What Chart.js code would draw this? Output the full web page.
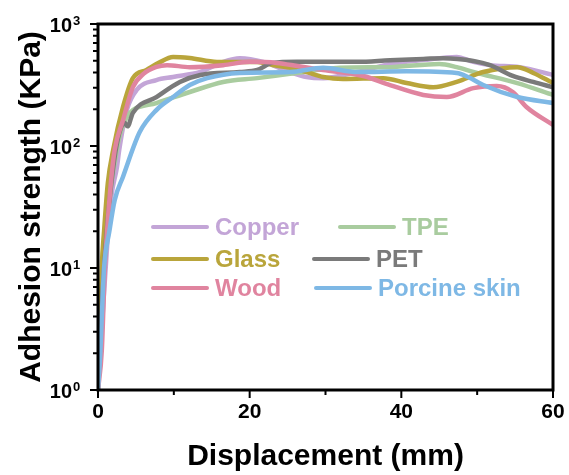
<!DOCTYPE html>
<html>
<head>
<meta charset="utf-8">
<script src="https://cdn.jsdelivr.net/npm/chart.js@4"></script>
<style>
  html, body { margin: 0; padding: 0; background: #fff; }
</style>
</head>
<body>
<canvas id="c" width="569" height="475"></canvas>
<script>
// Adhesion strength vs displacement, six substrates (log y)

// --- data (x in mm, y in KPa) ---
const copperX = [0, 0.6, 1.2, 1.8, 2.5, 2.8, 3.8, 5.1, 7.7, 9.9, 13.5, 16.5, 18.7, 21.8, 25.3, 27.5, 29.7, 34.2, 38.5, 42.9, 47.3, 49.5, 51.7, 55.6, 60];
const copperY = [1, 4, 15, 40, 67, 93, 197, 288, 347, 368, 404, 489, 525, 489, 404, 368, 360, 404, 470, 507, 537, 489, 460, 443, 382];

const tpeX = [0, 0.5, 1, 1.6, 2.3, 2.9, 3.8, 4.6, 7.7, 12.1, 16.5, 21, 25.3, 31.9, 38.5, 45, 47.3, 49.5, 55.3, 60];
const tpeY = [1, 5, 15, 40, 80, 125, 173, 197, 225, 277, 335, 360, 390, 437, 443, 470, 443, 404, 328, 262];

const glassX = [0, 0.3, 0.5, 0.8, 1.3, 2.0, 3.3, 4.6, 6.4, 8, 9.9, 12.1, 15.7, 21, 23, 25.3, 27.5, 29.7, 32.3, 37.6, 40.7, 44.2, 47.3, 50.8, 55.3, 57.4, 60];
const glassY = [1, 3, 10, 20, 50, 93, 209, 360, 420, 480, 537, 526, 489, 489, 461, 437, 404, 368, 354, 360, 328, 303, 335, 404, 443, 397, 328];

const petX = [0, 0.5, 1, 1.6, 2.3, 3.0, 3.5, 3.9, 4.6, 7.7, 10.8, 13.5, 18.7, 21, 23, 26.2, 34.2, 38.5, 42.9, 45.5, 49.5, 51.7, 54.7, 57.4, 60];
const petY = [1, 5, 15, 40, 90, 140, 155, 145, 187, 252, 335, 382, 404, 420, 480, 490, 490, 505, 517, 525, 498, 460, 375, 335, 303];

const woodX = [0, 0.5, 0.9, 1.2, 1.7, 2.2, 3.3, 4.6, 6, 7.7, 9.1, 12.1, 16.5, 20, 23.6, 26.5, 29.7, 35, 38.5, 42.9, 46, 49.5, 52.6, 54.7, 56.5, 60];
const woodY = [1, 2.1, 10, 20, 50, 93, 163, 304, 390, 445, 460, 443, 460, 490, 480, 450, 420, 375, 316, 262, 252, 298, 310, 277, 209, 149];

const skinX = [0, 0.3, 0.6, 0.8, 1.5, 2.2, 3.3, 5.5, 7.7, 9.9, 12.1, 14.4, 18.7, 25.3, 29.7, 34.2, 40.7, 47.3, 48.8, 50.8, 55.3, 60];
const skinY = [1, 2, 5.5, 10, 20, 36, 56, 130, 197, 252, 316, 360, 397, 404, 437, 404, 410, 397, 368, 316, 252, 225];

const seriesNames = ['Copper', 'TPE', 'Glass', 'PET', 'Wood', 'Porcine skin'];
const seriesColors = ['#c3a5d7', '#a9cc9f', '#b9a53b', '#7a7a7a', '#e0849f', '#7eb8e5'];

const xTicks = [0, 10, 20, 30, 40, 50, 60];
const xLabels = [0, 20, 40, 60];
const yMajor = [1, 10, 100, 1000];
const yExp = ['0', '1', '2', '3'];
const yMinor = [2, 3, 4, 5, 6, 7, 8, 9];

const FONT = "'Liberation Sans', Arial, sans-serif";

function pts(xs, ys) {
    return xs.map((x, i) => ({ x: x, y: ys[i] }));
}

const seriesData = [
    pts(copperX, copperY),
    pts(tpeX, tpeY),
    pts(glassX, glassY),
    pts(petX, petY),
    pts(woodX, woodY),
    pts(skinX, skinY)
];

// first dataset ends up on top, so list them top-most first
const drawOrder = [5, 4, 3, 2, 1, 0];
const datasets = drawOrder.map(i => ({
    label: seriesNames[i],
    data: seriesData[i],
    borderColor: seriesColors[i],
    borderWidth: 4.5,
    pointRadius: 0,
    fill: false,
    cubicInterpolationMode: 'monotone'
}));

// frame, tick marks, 10^n labels and the two-column legend
const decorations = {
    id: 'decorations',
    afterDraw(chart) {
        const ctx = chart.ctx;
        const a = chart.chartArea;
        const xs = chart.scales.x;
        const ys = chart.scales.y;
        ctx.save();
        ctx.strokeStyle = '#000';
        ctx.lineCap = 'butt';

        // tick marks
        ctx.lineWidth = 2;
        ctx.beginPath();
        ys.ticks.forEach(t => {
            const py = ys.getPixelForValue(t.value);
            const len = yMajor.includes(t.value) ? 8 : 5;
            ctx.moveTo(a.left - len, py);
            ctx.lineTo(a.left, py);
        });
        xs.ticks.forEach(t => {
            const px = xs.getPixelForValue(t.value);
            const len = xLabels.includes(t.value) ? 8 : 5;
            ctx.moveTo(px, a.bottom);
            ctx.lineTo(px, a.bottom + len);
        });
        ctx.stroke();

        // frame
        ctx.lineWidth = 3;
        ctx.strokeRect(a.left, a.top, a.right - a.left, a.bottom - a.top);

        // y labels as 10 with superscript exponent
        ctx.fillStyle = '#000';
        yMajor.forEach((v, i) => {
            const py = ys.getPixelForValue(v);
            ctx.font = 'bold 20px ' + FONT;
            ctx.textAlign = 'right';
            ctx.textBaseline = 'middle';
            ctx.fillText('10', a.left - 26, py + 2);
            ctx.font = 'bold 13px ' + FONT;
            ctx.textAlign = 'left';
            ctx.textBaseline = 'middle';
            ctx.fillText(yExp[i], a.left - 25, py - 3);
        });

        // legend
        const rows = [
            [0, 55, 227, 1, 242, 227],
            [2, 55, 259, 3, 216, 259],
            [4, 55, 288, 5, 218, 288]
        ];
        ctx.font = 'bold 24px ' + FONT;
        ctx.textAlign = 'left';
        ctx.textBaseline = 'middle';
        ctx.lineWidth = 4;
        ctx.lineCap = 'round';
        rows.forEach(r => {
            [[r[0], r[1], r[2]], [r[3], r[4], r[5]]].forEach(item => {
                const idx = item[0];
                const lx = a.left + item[1];
                const ly = item[2];
                ctx.strokeStyle = seriesColors[idx];
                ctx.beginPath();
                ctx.moveTo(lx, ly);
                ctx.lineTo(lx + 54, ly);
                ctx.stroke();
                ctx.fillStyle = seriesColors[idx];
                ctx.fillText(seriesNames[idx], lx + 62, ly + 1);
            });
        });
        ctx.restore();
    }
};

new Chart(document.getElementById('c'), {
    type: 'line',
    data: { datasets: datasets },
    options: {
        responsive: false,
        animation: false,
        layout: { padding: { top: 24, right: 16, left: 0, bottom: 0 } },
        plugins: { legend: { display: false }, tooltip: { enabled: false } },
        scales: {
            x: {
                type: 'linear',
                min: 0,
                max: 60,
                afterBuildTicks: s => { s.ticks = xTicks.map(v => ({ value: v })); },
                afterFit: s => { s.height = 85; s.paddingLeft = 0; s.paddingRight = 0; },
                grid: { display: false, drawTicks: false },
                border: { display: false },
                ticks: {
                    autoSkip: false,
                    maxRotation: 0,
                    padding: 10,
                    color: '#000',
                    font: { family: FONT, size: 21, weight: 'bold' },
                    callback: v => xLabels.includes(v) ? String(v) : ''
                },
                title: {
                    display: true,
                    text: 'Displacement (mm)',
                    color: '#000',
                    font: { family: FONT, size: 30, weight: 'bold' },
                    padding: { top: 2, bottom: 0 }
                }
            },
            y: {
                type: 'logarithmic',
                min: 1,
                max: 1000,
                afterBuildTicks: s => {
                    const t = [];
                    yMajor.forEach((m, i) => {
                        t.push({ value: m });
                        if (i < yMajor.length - 1) yMinor.forEach(k => t.push({ value: m * k }));
                    });
                    s.ticks = t;
                },
                afterFit: s => { s.width = 98; s.paddingTop = 0; s.paddingBottom = 0; },
                grid: { display: false, drawTicks: false },
                border: { display: false },
                ticks: { display: false },
                title: {
                    display: true,
                    text: 'Adhesion strength (KPa)',
                    color: '#000',
                    font: { family: FONT, size: 30, weight: 'bold' },
                    padding: { top: 14, bottom: 0 }
                }
            }
        }
    },
    plugins: [decorations]
});
</script>
</body>
</html>
